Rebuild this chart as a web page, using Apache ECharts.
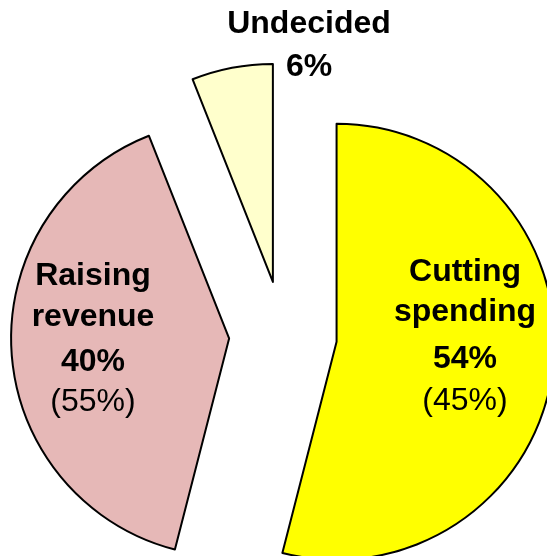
<!DOCTYPE html>
<html>
<head>
<meta charset="utf-8">
<script src="https://cdn.jsdelivr.net/npm/echarts@6/dist/echarts.min.js"></script>
<style>
html,body{margin:0;padding:0;background:#fff;}
#c{width:547px;height:556px;}
</style>
</head>
<body>
<div id="c"></div>
<script>
// Data
const categories = ['Cutting spending', 'Raising revenue', 'Undecided'];
const labelLines = [['Cutting', 'spending'], ['Raising', 'revenue'], ['Undecided']];
const values = [54, 40, 6];
const priorValues = [45, 55, null];
const colors = ['#FFFF00', '#E6B8B7', '#FFFFCC'];

// Label layout (baselines per line, center x)
const labelPos = [
  { x: 465, baselines: [283, 323, 370, 412] },
  { x: 93, baselines: [287, 328, 373, 413] },
  { x: 309, baselines: [35, 78] }
];

const FONT = 'Liberation Sans, Arial, sans-serif';
const FS = 32;
const graphics = [];
categories.forEach((c, i) => {
  const lines = labelLines[i].map(t => ({ t, bold: true }));
  lines.push({ t: values[i] + '%', bold: true });
  if (priorValues[i] != null) lines.push({ t: '(' + priorValues[i] + '%)', bold: false });
  lines.forEach((ln, j) => {
    graphics.push({
      type: 'text',
      x: labelPos[i].x,
      y: labelPos[i].baselines[j] - FS * 0.345,
      z: 100,
      style: {
        text: ln.t,
        fill: '#000',
        font: (ln.bold ? 'bold ' : '') + FS + 'px ' + FONT,
        textAlign: 'center',
        textVerticalAlign: 'middle'
      }
    });
  });
});

const chart = echarts.init(document.getElementById('c'));
chart.setOption({
  animation: false,
  backgroundColor: '#fff',
  graphic: graphics,
  series: [{
    type: 'pie',
    center: [283, 335],
    radius: 218,
    startAngle: 90,
    clockwise: true,
    selectedMode: 'multiple',
    selectedOffset: 54,
    avoidLabelOverlap: false,
    label: { show: false },
    labelLine: { show: false },
    emphasis: { disabled: true },
    itemStyle: { borderColor: '#000', borderWidth: 2 },
    data: categories.map((c, i) => ({
      name: c,
      value: values[i],
      selected: true,
      itemStyle: { color: colors[i] }
    }))
  }]
});
</script>
</body>
</html>
